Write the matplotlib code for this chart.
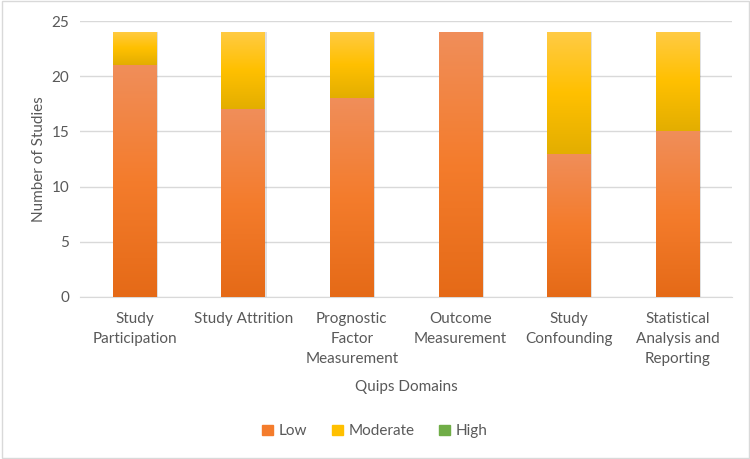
import matplotlib.pyplot as plt
import numpy as np
from matplotlib.colors import LinearSegmentedColormap
from matplotlib.patches import Rectangle, Patch

plt.rcParams['font.family'] = ['Lato', 'DejaVu Sans']

domains = ['Study\nParticipation', 'Study Attrition', 'Prognostic\nFactor\nMeasurement',
           'Outcome\nMeasurement', 'Study\nConfounding', 'Statistical\nAnalysis and\nReporting']
low = [21, 17, 18, 24, 13, 15]
moderate = [3, 7, 6, 0, 11, 9]
high = [0, 0, 0, 0, 0, 0]

txt = '#595959'
fs = 11

# gradients (top -> bottom), mimicking the office style fills
low_cmap = LinearSegmentedColormap.from_list('low', ['#F08E5A', '#F47C2C', '#E56A17'])
mod_cmap = LinearSegmentedColormap.from_list('mod', ['#FFCB45', '#FFC000', '#E3AE00'])
high_cmap = LinearSegmentedColormap.from_list('high', ['#81BF5A', '#70AD47', '#5E9A38'])

fig = plt.figure(figsize=(7.5, 4.59), dpi=100)
ax = fig.add_axes([0.107, 0.353, 0.869, 0.601])

x = np.arange(len(domains))
w = 0.4
b1 = ax.bar(x, low, w, color='#F47C2C', zorder=2)
b2 = ax.bar(x, moderate, w, bottom=low, color='#FFC000', zorder=2)
b3 = ax.bar(x, high, w, bottom=np.array(low) + np.array(moderate), color='#70AD47', zorder=2)

grad = np.linspace(0, 1, 256).reshape(-1, 1)  # row 0 drawn at top
for bars, cm in [(b1, low_cmap), (b2, mod_cmap), (b3, high_cmap)]:
    for p in bars:
        h = p.get_height()
        if h <= 0:
            continue
        x0, y0, bw = p.get_x(), p.get_y(), p.get_width()
        # soft shadow
        ax.add_patch(Rectangle((x0 + 0.015, y0), bw, h, color='#000000', alpha=0.12,
                               zorder=1.5, lw=0))
        im = ax.imshow(grad, cmap=cm, extent=[x0, x0 + bw, y0, y0 + h],
                       aspect='auto', zorder=3, interpolation='bicubic')
        im.set_clip_path(p)
        p.set_alpha(0)

ax.set_xlim(-0.5, len(domains) - 0.5)
ax.set_ylim(0, 25)
ax.set_yticks([0, 5, 10, 15, 20, 25])
ax.set_xticks(x)
ax.set_xticklabels(domains, fontsize=fs, color=txt, linespacing=1.55)
ax.tick_params(axis='y', labelsize=fs, labelcolor=txt, length=0, pad=8)
ax.tick_params(axis='x', length=0, pad=11)
ax.grid(axis='y', color='#D9D9D9', lw=1, zorder=0)
ax.set_axisbelow(True)
for s in ['top', 'right', 'left']:
    ax.spines[s].set_visible(False)
ax.spines['bottom'].set_color('#D9D9D9')

ax.set_ylabel('Number of Studies', fontsize=fs, color=txt, labelpad=4)
ax.set_xlabel('Quips Domains', fontsize=fs, color=txt, labelpad=10)

handles = [Patch(color='#F47C2C'), Patch(color='#FFC000'), Patch(color='#70AD47')]
fig.legend(handles, ['Low', 'Moderate', 'High'], loc='center', bbox_to_anchor=(0.5, 0.06),
           ncol=3, frameon=False, fontsize=fs, labelcolor=txt, handlelength=0.7,
           handleheight=0.7, handletextpad=0.4, columnspacing=1.6)

fig.patches.append(Rectangle((0.002, 0.002), 0.996, 0.996, transform=fig.transFigure,
                             fill=False, edgecolor='#D9D9D9', lw=1))

fig.savefig('out.png', dpi=100)
